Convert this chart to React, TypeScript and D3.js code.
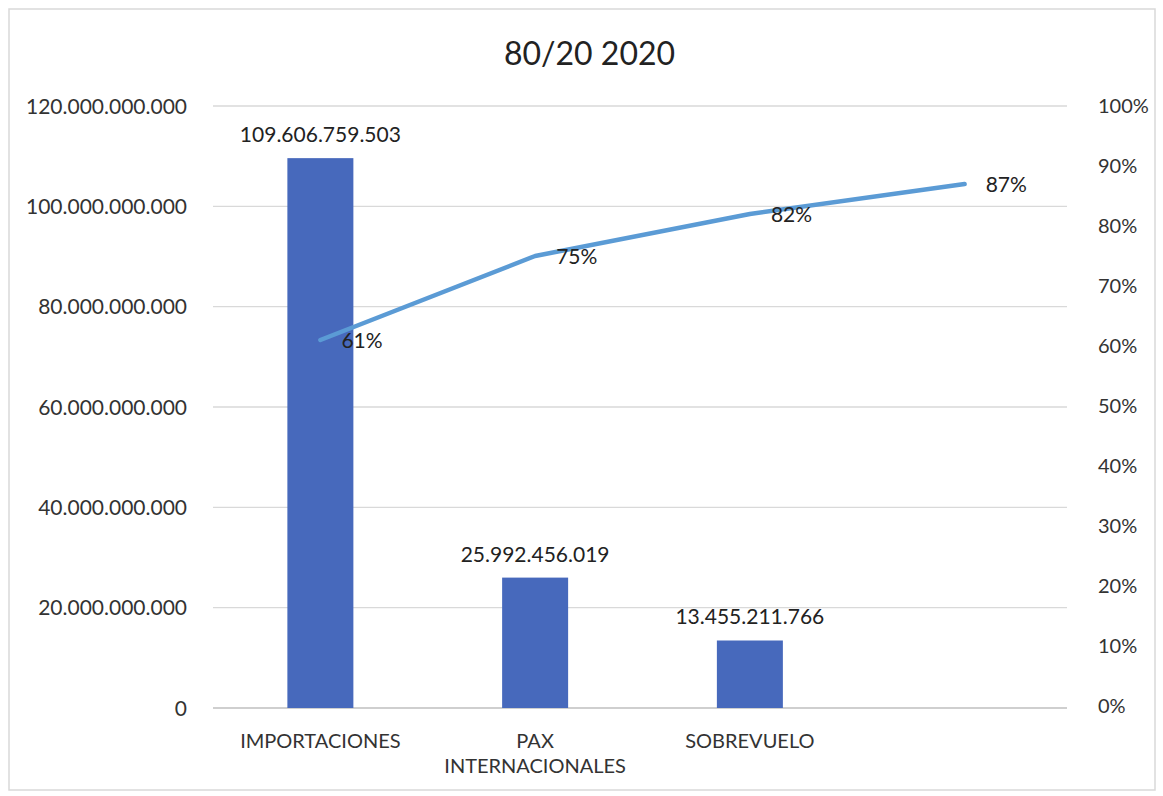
import React from "react";
import * as d3 from "d3";

const categories = ["IMPORTACIONES", "PAX\nINTERNACIONALES", "SOBREVUELO", ""];
const barValues: (number | null)[] = [109606759503, 25992456019, 13455211766, null];
const barLabels = ["109.606.759.503", "25.992.456.019", "13.455.211.766", ""];
const cumPct = [0.61, 0.75, 0.82, 0.87];
const leftTicks = [0, 20e9, 40e9, 60e9, 80e9, 100e9, 120e9];
const rightTicks = [0, 0.1, 0.2, 0.3, 0.4, 0.5, 0.6, 0.7, 0.8, 0.9, 1.0];
const title = "80/20 2020";

const W = 1163, H = 796;
const plotLeft = 213, plotRight = 1072, plotTop = 106, plotBottom = 708;
const font = "Lato, 'Open Sans', sans-serif";
const fmtDot = (v: number) => d3.format(",")(v).replace(/,/g, ".");

export default function App() {
  const x = d3.scaleBand<string>().domain(categories).range([plotLeft, plotRight]).paddingInner(0.69).paddingOuter(0.345);
  const xc = (c: string) => (x(c) ?? 0) + x.bandwidth() / 2;
  const yL = d3.scaleLinear().domain([0, 120e9]).range([plotBottom, plotTop]);
  const yR = d3.scaleLinear().domain([0, 1]).range([plotBottom - 2, plotTop]);
  const line = d3.line<number>().x((_, i) => xc(categories[i])).y(d => yR(d));
  const bw = 66;
  return (
    <div style={{ position: "fixed", left: 0, top: 0 }}>
      <svg width={W} height={H} style={{ display: "block", background: "#fff" }}>
        <rect x={9} y={9} width={1146} height={781} fill="#fff" stroke="#d9d9d9" strokeWidth={1.5} />
        <text x={W / 2 + 8} y={65} textAnchor="middle" fontFamily={font} fontSize={32} fill="#222">{title}</text>
        {leftTicks.map(t => (
          <g key={t}>
            <line x1={plotLeft} x2={plotRight - 5} y1={yL(t)} y2={yL(t)} stroke={t === 0 ? "#bfbfbf" : "#d9d9d9"} strokeWidth={1.3} />
            <text x={187} y={yL(t) + 7.5} textAnchor="end" fontFamily={font} fontSize={21} fill="#333">{t === 0 ? "0" : fmtDot(t)}</text>
          </g>
        ))}
        {rightTicks.map(t => (
          <text key={t} x={1098} y={yR(t) + 7} textAnchor="start" fontFamily={font} fontSize={20} fill="#333">{Math.round(t * 100) + "%"}</text>
        ))}
        {categories.map((c, i) => barValues[i] == null ? null : (
          <g key={c}>
            <rect x={xc(c) - bw / 2} y={yL(barValues[i] as number)} width={bw} height={plotBottom - yL(barValues[i] as number)} fill="#4769BC" />
            <text x={xc(c)} y={yL(barValues[i] as number) - 16} textAnchor="middle" fontFamily={font} fontSize={21} fill="#222">{barLabels[i]}</text>
          </g>
        ))}
        {categories.map((c, i) => (
          <text key={"cat" + i} x={xc(c)} textAnchor="middle" fontFamily={font} fontSize={20} fill="#333">
            {c.split("\n").map((s, j) => (
              <tspan key={j} x={xc(c)} y={748 + j * 25}>{s}</tspan>
            ))}
          </text>
        ))}
        <path d={line(cumPct) ?? ""} fill="none" stroke="#5B9BD5" strokeWidth={4.5} strokeLinejoin="round" strokeLinecap="round" />
        {cumPct.map((p, i) => (
          <text key={"p" + i} x={xc(categories[i]) + 21} y={yR(p) + 8} textAnchor="start" fontFamily={font} fontSize={21} fill="#222">{Math.round(p * 100) + "%"}</text>
        ))}
      </svg>
    </div>
  );
}
